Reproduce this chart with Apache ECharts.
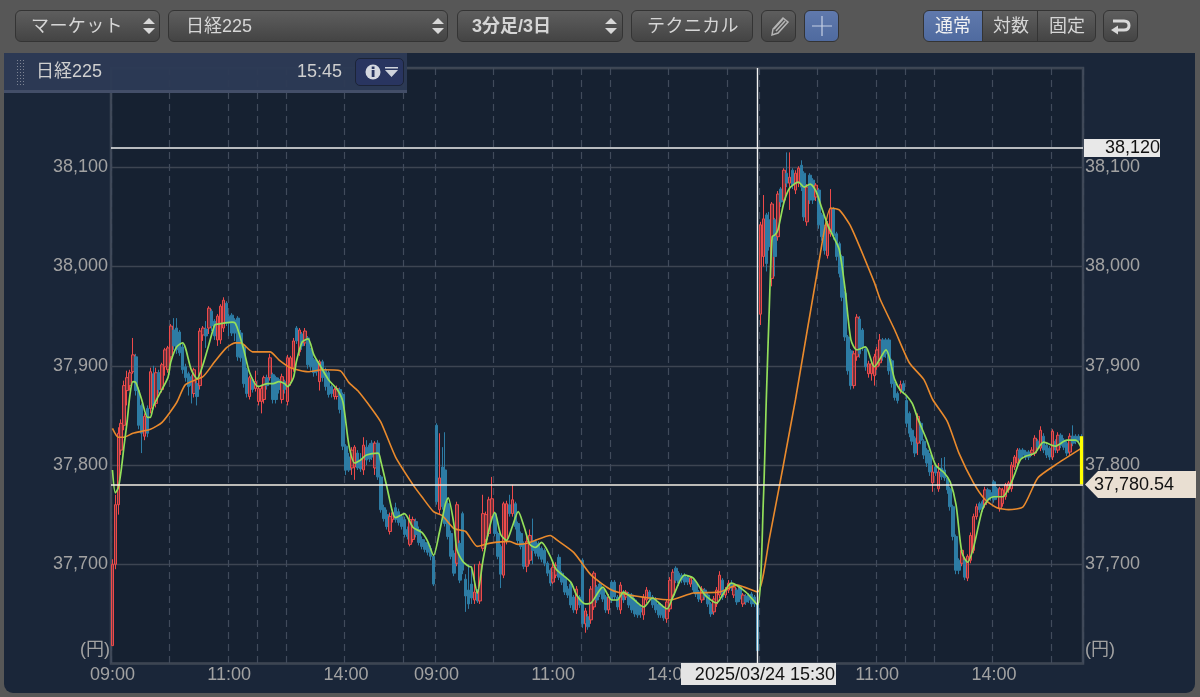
<!DOCTYPE html>
<html><head><meta charset="utf-8">
<script src="https://cdn.jsdelivr.net/npm/echarts@6/dist/echarts.min.js"></script>
<style>
html,body{margin:0;padding:0;width:1200px;height:697px;overflow:hidden;background:#575757;font-family:"Liberation Sans","Noto Sans CJK JP",sans-serif}
#panel{position:absolute;left:4px;top:53px;width:1191px;height:640px;background:#1a2639;border-radius:0 0 9px 9px}
#chart{position:absolute;left:0;top:0;width:1200px;height:697px}
.btn{position:absolute;top:10px;height:30px;border:1px solid #343434;border-radius:6px;background:linear-gradient(#5e5e5e,#444);color:#d6d6d6;font-size:18px;line-height:30px;white-space:nowrap;box-sizing:content-box;z-index:5}
.btn span{position:absolute;top:0}
.btn svg{position:absolute}
.on{background:linear-gradient(#6079ad,#4f6a9f);color:#f2f2f2}
#head{position:absolute;left:4px;top:53px;width:403px;height:37px;background:rgba(45,58,85,.96);border-bottom:3px solid #434e68;z-index:4;color:#cfcfcf;font-size:18px;line-height:36px}
#head .grip{position:absolute;left:12px;top:6px;width:9px;height:26px;background-image:radial-gradient(#7d8494 .6px,transparent .8px);background-size:3px 3px}
#head .ib{position:absolute;left:351px;top:5px;width:47px;height:26px;border:1px solid #1c2437;border-radius:5px;background:#293560}
</style></head><body>
<div id="panel"></div>
<div id="chart"></div>
<div class="btn" style="left:15px;width:143px"><span style="left:15px;letter-spacing:.4px">マーケット</span><svg style="left:126px;top:6px" width="14" height="18"><path d="M7 1l6 6H1zM7 17l6-6H1z" fill="#d8d8d8"/></svg></div>
<div class="btn" style="left:168px;width:278px"><span style="left:17px">日経225</span><svg style="left:262px;top:6px" width="14" height="18"><path d="M7 1l6 6H1zM7 17l6-6H1z" fill="#d8d8d8"/></svg></div>
<div class="btn" style="left:457px;width:164px"><span style="left:14px;font-weight:bold">3分足/3日</span><svg style="left:146px;top:6px" width="14" height="18"><path d="M7 1l6 6H1zM7 17l6-6H1z" fill="#d8d8d8"/></svg></div>
<div class="btn" style="left:631px;width:120px"><span style="left:15px;letter-spacing:.4px">テクニカル</span></div>
<div class="btn" style="left:761px;width:33px"><svg style="left:5px;top:4px" width="24" height="22"><path d="M5 20l1-6 10-11 5 4-10 11zM9 16l9-10M7 14l9-10" fill="none" stroke="#b5b5b5" stroke-width="1.5"/></svg></div>
<div class="btn on" style="left:804px;width:33px"><svg style="left:6px;top:4px" width="22" height="22"><path d="M11 1v20M1 11h20" stroke="#c6d0e4" stroke-width="1.2"/></svg></div>
<div class="btn on" style="left:923px;width:59px;border-radius:6px 0 0 6px"><span style="left:11px">通常</span></div>
<div class="btn" style="left:982px;width:55px;border-radius:0"><span style="left:10px">対数</span></div>
<div class="btn" style="left:1037px;width:57px;border-radius:0 6px 6px 0"><span style="left:11px">固定</span></div>
<div class="btn" style="left:1103px;width:33px"><svg style="left:6px;top:5px" width="22" height="20"><path d="M3 5h11q5 0 5 4.500t-5 4.500h-7" fill="none" stroke="#d8d8d8" stroke-width="3"/><path d="M1 14l7-4.500v9z" fill="#d8d8d8"/></svg></div>
<div id="head"><div class="grip"></div><span style="position:absolute;left:32px">日経225</span><span style="position:absolute;left:293px">15:45</span>
<div class="ib"><svg style="position:absolute;left:6px;top:3px" width="36" height="20"><circle cx="11" cy="10" r="7.500" fill="#d5d8e0"/><rect x="9.700" y="8" width="2.800" height="7" fill="#293560"/><rect x="9.700" y="4.500" width="2.800" height="2.500" fill="#293560"/><path d="M23 5h13v1.500H23zM23 8h13l-6.500 7z" fill="#cfd3dc"/></svg></div></div>
<script>
const dayDates = ["03/21", "03/24", "03/25"];
const yTicks = [37600, 37700, 37800, 37900, 38000, 38100, 38200];
const highLine = 38120;
const lastPrice = 37780.54;
const barTop = 37829;
const cursorDay = "03/24 15:30";
// [open, close, low, high]
const day1Candles = [
[37618,37700,37618,37705],[37700,37760,37695,37770],[37760,37832,37750,37838],[37815,37842,37810,37846],[37840,37880,37835,37885],[37875,37888,37860,37895],[37880,37893,37875,37896],[37894,37911,37892,37928],[37909,37875,37870,37912],[37875,37840,37836,37878],
[37860,37832,37812,37862],[37829,37849,37825,37852],[37857,37832,37828,37860],[37857,37894,37852,37898],[37892,37860,37856,37900],[37862,37893,37858,37898],[37893,37876,37872,37896],[37876,37901,37873,37903],[37899,37916,37890,37918],[37896,37918,37893,37920],
[37909,37940,37905,37942],[37936,37920,37916,37948],[37938,37916,37912,37948],[37934,37913,37910,37936],[37919,37896,37892,37922],[37899,37888,37884,37902],[37892,37879,37870,37894],[37889,37880,37862,37891],[37872,37896,37868,37898],[37882,37869,37860,37885],
[37880,37935,37876,37938],[37931,37938,37925,37940],[37937,37930,37918,37945],[37938,37958,37932,37960],[37955,37940,37935,37957],[37945,37930,37926,37947],[37926,37950,37920,37952],[37926,37960,37922,37962],[37938,37966,37934,37969],[37963,37943,37940,37965],
[37950,37943,37930,37952],[37951,37933,37930,37953],[37946,37933,37925,37948],[37948,37909,37905,37950],[37933,37908,37904,37936],[37919,37882,37878,37921],[37896,37872,37868,37898],[37869,37888,37866,37890],[37886,37876,37873,37888],[37877,37884,37874,37895],
[37864,37877,37860,37880],[37864,37877,37852,37880],[37866,37888,37862,37890],[37888,37880,37876,37891],[37888,37908,37885,37912],[37891,37866,37862,37893],[37888,37866,37862,37890],[37886,37876,37872,37888],[37866,37889,37862,37892],[37884,37876,37872,37886],
[37864,37908,37860,37911],[37883,37908,37880,37910],[37898,37925,37894,37928],[37938,37925,37922,37940],[37914,37936,37910,37938],[37932,37920,37916,37934],[37923,37935,37920,37938],[37928,37901,37897,37930],[37916,37899,37895,37918],[37906,37893,37889,37908],
[37904,37894,37890,37906],[37884,37904,37875,37906],[37904,37888,37884,37906],[37896,37879,37875,37898],[37893,37871,37868,37895],[37879,37872,37868,37881],[37869,37876,37866,37878],[37869,37877,37866,37880],[37876,37856,37852,37878],[37871,37819,37815,37873],
[37819,37795,37790,37821],[37808,37795,37793,37812],[37797,37815,37790,37818],[37798,37818,37785,37820],[37812,37797,37795,37815],[37805,37796,37793,37812],[37795,37820,37790,37828],[37818,37805,37800,37825],[37820,37806,37803,37822],[37822,37808,37805,37825],
[37797,37822,37790,37824],[37822,37788,37785,37825],[37788,37755,37752,37790],[37757,37746,37743,37760],[37750,37738,37735,37755],[37733,37748,37730,37752],[37745,37752,37742,37755],[37757,37745,37742,37762],[37753,37742,37739,37756],[37748,37738,37735,37750],
[37745,37730,37727,37748],[37735,37728,37725,37738],[37720,37745,37718,37750],[37725,37745,37722,37748],[37743,37730,37727,37746],[37735,37722,37719,37738],[37725,37718,37715,37728],[37722,37715,37712,37725],[37720,37712,37709,37722],[37716,37708,37704,37719],[37708,37680,37678,37710]
];
const day2Candles = [
[37840,37763,37760,37842],[37755,37787,37750,37832],[37798,37758,37755,37818],[37795,37741,37738,37833],[37761,37728,37725,37764],[37731,37708,37705,37734],[37711,37691,37688,37714],[37701,37760,37698,37763],[37721,37684,37681,37724],[37751,37694,37690,37753],
[37685,37668,37652,37690],[37674,37660,37655,37700],[37680,37666,37660,37698],[37664,37672,37660,37700],[37672,37663,37661,37675],[37663,37700,37660,37703],[37716,37751,37713,37770],[37725,37750,37722,37753],[37731,37765,37728,37768],[37748,37766,37745,37788],
[37751,37731,37728,37753],[37731,37708,37705,37733],[37718,37690,37676,37720],[37689,37761,37686,37763],[37724,37761,37720,37764],[37760,37751,37748,37770],[37751,37765,37748,37780],[37761,37738,37735,37763],[37741,37724,37721,37743],[37731,37718,37715,37733],
[37721,37698,37695,37723],[37698,37723,37692,37730],[37704,37729,37700,37735],[37723,37714,37700,37746],[37723,37711,37708,37725],[37721,37708,37705,37723],[37716,37705,37702,37718],[37714,37701,37698,37716],[37701,37691,37688,37703],[37694,37681,37678,37696],
[37682,37697,37680,37702],[37689,37699,37686,37702],[37707,37687,37684,37710],[37691,37682,37679,37693],[37686,37672,37669,37688],[37675,37669,37666,37678],[37680,37659,37656,37682],[37667,37654,37651,37669],[37654,37675,37650,37678],[37667,37659,37656,37669],
[37704,37640,37636,37706],[37640,37653,37631,37656],[37647,37637,37634,37650],[37644,37675,37640,37678],[37657,37691,37654,37693],[37677,37664,37661,37679],[37680,37670,37667,37683],[37675,37665,37662,37677],[37667,37654,37651,37669],[37654,37667,37650,37670],
[37682,37664,37661,37684],[37682,37667,37664,37684],[37667,37657,37654,37669],[37654,37679,37650,37682],[37672,37664,37661,37674],[37667,37672,37664,37674],[37670,37659,37656,37672],[37669,37654,37651,37671],[37664,37650,37647,37666],[37659,37649,37646,37661],
[37656,37652,37646,37659],[37649,37667,37644,37670],[37664,37674,37661,37677],[37672,37665,37662,37674],[37667,37659,37656,37669],[37665,37654,37651,37667],[37660,37649,37646,37662],[37659,37649,37646,37661],[37655,37646,37643,37657],[37645,37662,37641,37665],
[37655,37684,37652,37687],[37669,37692,37666,37695],[37696,37684,37681,37698],[37691,37681,37678,37693],[37689,37684,37681,37691],[37689,37682,37679,37691],[37687,37682,37679,37689],[37680,37686,37677,37688],[37684,37674,37671,37686],[37680,37670,37667,37682],
[37672,37665,37662,37674],[37664,37675,37661,37678],[37674,37667,37664,37676],[37669,37660,37657,37671],[37660,37650,37647,37662],[37652,37665,37649,37668],[37660,37674,37657,37677],[37669,37689,37666,37693],[37684,37667,37664,37686],[37669,37674,37666,37677],
[37674,37681,37671,37684],[37681,37676,37673,37684],[37669,37677,37666,37680],[37674,37662,37659,37676],[37677,37665,37662,37679],[37660,37669,37657,37671],[37668,37662,37659,37670],[37669,37664,37661,37671],[37670,37660,37657,37672],[37667,37660,37657,37669],[37660,37613,37611,37662]
];
const day3Candles = [
[37952,38042,37941,38045],[38010,38048,38000,38072],[38052,38003,37995,38054],[38047,38020,38016,38055],[37988,38063,37980,38065],[38047,38010,37990,38049],[38030,38073,38026,38076],[38078,38065,38060,38080],[38067,38097,38063,38099],[38094,38084,38080,38115],
[38084,38090,38057,38115],[38097,38082,38078,38099],[38077,38094,38073,38097],[38084,38099,38080,38101],[38102,38080,38076,38107],[38094,38050,38046,38096],[38045,38080,38041,38083],[38092,38067,38063,38094],[38087,38067,38063,38089],[38070,38082,38066,38084],
[38077,38042,38038,38079],[38052,38030,38026,38054],[38040,38016,38012,38042],[38011,38043,38008,38046],[38033,38058,38030,38078],[38058,38031,38027,38060],[38033,38010,38006,38035],[38023,37993,37989,38025],[38010,37969,37965,38012],[37973,37929,37925,37975],
[37929,37895,37891,37931],[37915,37880,37876,37917],[37880,37912,37877,37915],[37909,37949,37905,37952],[37947,37912,37908,37950],[37936,37919,37915,37938],[37917,37899,37895,37919],[37892,37902,37888,37905],[37892,37902,37885,37905],[37890,37909,37880,37912],
[37899,37916,37896,37919],[37903,37926,37900,37932],[37926,37909,37905,37928],[37926,37912,37908,37928],[37926,37895,37891,37928],[37905,37882,37878,37907],[37882,37868,37865,37884],[37872,37865,37862,37874],[37875,37881,37872,37885],[37882,37875,37872,37885],
[37865,37842,37838,37870],[37852,37832,37828,37854],[37835,37824,37820,37837],[37827,37812,37808,37829],[37822,37849,37810,37852],[37842,37825,37821,37844],[37824,37810,37806,37826],[37815,37802,37798,37817],[37810,37793,37789,37812],[37782,37793,37773,37800],
[37798,37792,37789,37800],[37776,37793,37773,37802],[37797,37788,37785,37807],[37795,37787,37784,37808],[37787,37775,37771,37789],[37776,37758,37754,37778],[37758,37728,37724,37760],[37728,37694,37690,37730],[37704,37694,37690,37706],[37701,37714,37698,37716],
[37704,37687,37684,37706],[37686,37708,37683,37710],[37704,37729,37701,37732],[37714,37748,37711,37751],[37748,37758,37745,37761],[37761,37755,37752,37763],[37763,37756,37753,37765],[37760,37775,37757,37778],[37775,37765,37762,37777],[37772,37768,37764,37775],
[37783,37765,37762,37785],[37776,37768,37765,37778],[37756,37776,37753,37778],[37761,37775,37758,37777],[37768,37780,37765,37782],[37775,37782,37772,37784],[37776,37800,37773,37803],[37798,37808,37795,37810],[37802,37815,37799,37817],[37815,37807,37804,37817],
[37815,37810,37807,37817],[37813,37808,37805,37815],[37813,37808,37805,37815],[37812,37815,37809,37818],[37812,37827,37809,37830],[37824,37818,37815,37826],[37817,37835,37814,37839],[37829,37815,37812,37832],[37820,37810,37807,37822],[37817,37808,37805,37819],
[37808,37834,37805,37836],[37824,37815,37812,37826],[37815,37830,37812,37833],[37830,37820,37817,37832],[37825,37818,37815,37827],[37822,37812,37809,37824],[37813,37829,37810,37832],[37829,37822,37819,37840],[37829,37824,37821,37831],[37829,37825,37822,37831],[37828,37826,37823,37831]
];
// short average, [bar index, value]
const fastAverage = [[0,37795],[1,37772],[2,37777],[3,37795],[4,37820],[5,37843],[6,37871],[7,37884],[8,37883],[10,37866],[12,37848],[13,37848],[14,37859],[16,37871],[19,37888],[20,37904],[22,37919],[24,37923],[25,37918],[27,37896],[29,37887],[31,37901],[33,37921],[35,37941],[36,37942],[41,37944],[42,37943],[43,37936],[45,37916],[47,37893],[50,37879],[53,37882],[55,37882],[57,37884],[59,37882],[60,37879],[62,37888],[63,37904],[65,37924],[67,37927],[69,37911],[71,37901],[74,37886],[77,37876],[79,37863],[81,37820],[83,37802],[85,37805],[87,37810],[91,37812],[92,37803],[94,37778],[96,37752],[97,37747],[100,37751],[103,37737],[106,37732],[108,37723],[110,37709],
[112,37732],[114,37760],[115,37767],[117,37740],[118,37715],[120,37703],[122,37698],[123,37697],[125,37671],[127,37705],[129,37735],[131,37752],[133,37730],[135,37724],[137,37738],[139,37753],[141,37738],[143,37720],[145,37717],[147,37722],[150,37708],[152,37695],[157,37682],[159,37669],[162,37660],[164,37661],[168,37677],[171,37664],[173,37664],[175,37672],[178,37666],[182,37657],[185,37666],[188,37659],[190,37655],[192,37667],[196,37689],[199,37686],[203,37669],[207,37661],[209,37669],[212,37681],[217,37672],[221,37659],
[223,37765],[224,37866],[225,37956],[226,38030],[227,38032],[228,38037],[230,38064],[232,38079],[235,38085],[237,38080],[239,38083],[241,38076],[243,38059],[245,38042],[247,38030],[249,38017],[251,37977],[253,37926],[255,37916],[258,37919],[261,37899],[265,37916],[268,37886],[270,37875],[272,37870],[274,37862],[276,37846],[279,37825],[282,37800],[285,37792],[287,37783],[289,37760],[291,37712],[293,37702],[295,37717],[298,37755],[300,37765],[302,37768],[305,37768],[307,37776],[309,37790],[311,37805],[313,37809],[316,37812],[319,37823],[323,37819],[327,37825],[330,37825],[332,37817]];
// long average, [bar index, value]
const slowAverage = [[0,37837],[2,37828],[4,37828],[7,37832],[13,37836],[17,37843],[22,37863],[25,37881],[31,37889],[35,37904],[39,37918],[42,37923],[44,37923],[48,37914],[54,37914],[57,37906],[61,37898],[67,37894],[72,37896],[78,37895],[81,37883],[84,37875],[89,37856],[92,37843],[97,37808],[103,37780],[106,37768],[110,37753],
[113,37749],[117,37736],[121,37733],[125,37718],[129,37721],[136,37723],[139,37720],[143,37722],[150,37729],[152,37725],[158,37712],[164,37689],[171,37674],[177,37669],[184,37666],[191,37664],[199,37671],[208,37672],[214,37679],[221,37672],
[225,37725],[234,37866],[242,38004],[246,38059],[249,38057],[253,38040],[261,37984],[263,37967],[268,37936],[273,37903],[278,37886],[281,37866],[286,37844],[290,37812],[295,37782],[299,37765],[303,37757],[307,37755],[312,37758],[317,37787],[323,37800],[332,37817]];

const sessionTimes = [];
for (let m = 540; m < 690; m += 3) sessionTimes.push(m);
for (let m = 750; m <= 930; m += 3) sessionTimes.push(m);
const pad = n => String(n).padStart(2, '0');
const categories = [];
dayDates.forEach(d => sessionTimes.forEach(m => categories.push(d + ' ' + pad(Math.floor(m / 60)) + ':' + pad(m % 60))));
const candles = day1Candles.concat(day2Candles, day3Candles);
const hhmm = s => s.slice(6);
const labelTimes = ['09:00', '11:00', '14:00'];
const gridTimes = ['09:00', '10:00', '11:00', '12:30', '13:00', '14:00', '15:00'];
const fmt = v => v.toLocaleString('en-US');
const axisGrey = '#a2a2a2', FONT = '"Liberation Sans","Noto Sans CJK JP",sans-serif';
const last = categories.length - 1;
const cursorIndex = categories.indexOf(cursorDay);

const chart = echarts.init(document.getElementById('chart'));
const yAxisBase = {
  type: 'value', min: yTicks[0], max: yTicks[yTicks.length - 1], interval: 100,
  axisLine: {show: false}, axisTick: {show: false},
  axisLabel: {color: axisGrey, fontSize: 18, fontFamily: FONT, padding: [2, 0, 0, 0],
    formatter: v => (v === yTicks[0] || v === yTicks[yTicks.length - 1]) ? '' : fmt(v)}
};
chart.setOption({
  animation: false,
  backgroundColor: 'transparent',
  textStyle: {fontFamily: FONT},
  grid: {left: 111, top: 68, width: 972, height: 595.5, show: true, backgroundColor: '#162131', borderColor: '#3f4857', borderWidth: 2.5, containLabel: false},
  xAxis: {
    type: 'category', data: categories, boundaryGap: true,
    axisLine: {show: false}, axisTick: {show: false},
    axisLabel: {color: axisGrey, fontSize: 18, fontFamily: FONT, margin: 3,
      interval: (i, v) => labelTimes.includes(hhmm(v)),
      formatter: v => hhmm(v)},
    splitLine: {show: true, interval: (i, v) => gridTimes.includes(hhmm(v)),
      lineStyle: {color: '#414b5b', type: [7, 5], width: 1.2}}
  },
  yAxis: [
    Object.assign({}, yAxisBase, {position: 'left',
      axisLabel: Object.assign({}, yAxisBase.axisLabel, {margin: 3}),
      splitLine: {show: true, lineStyle: {color: '#3d4552', width: 1.3}}}),
    Object.assign({}, yAxisBase, {position: 'right',
      axisLabel: Object.assign({}, yAxisBase.axisLabel, {margin: 2}),
      splitLine: {show: false}})
  ],
  series: [
    {type: 'candlestick', name: '日経225', data: candles, barWidth: 3, silent: true, z: 2,
      itemStyle: {color: 'rgba(238,75,75,0.4)', color0: '#2d7ca4', borderColor: '#ee4a4a', borderColor0: '#2d7ca4', borderWidth: 1},
      markLine: {silent: true, symbol: 'none', animation: false, precision: 2, z: 6,
        lineStyle: {type: 'solid'}, label: {show: false},
        data: [
          [{coord: [cursorIndex, yTicks[yTicks.length - 1]], lineStyle: {color: '#f2f2f2', width: 1.4, type: 'solid'}},
           {coord: [cursorIndex, yTicks[0]]}],
          {yAxis: highLine, lineStyle: {color: '#efefef', width: 1.6, type: 'solid'}},
          {yAxis: lastPrice, lineStyle: {color: '#f4efe4', width: 1.6, type: 'solid'}},
          [{coord: [last, lastPrice], lineStyle: {color: '#ffff00', width: 3.2, type: 'solid'}}, {coord: [last, barTop]}]
        ]}},
    {type: 'line', name: '長期', data: slowAverage, showSymbol: false, smooth: 0.2, silent: true, z: 3, lineStyle: {color: '#ea8a2c', width: 1.6}},
    {type: 'line', name: '短期', data: fastAverage, showSymbol: false, smooth: 0.25, silent: true, z: 4, lineStyle: {color: '#93df5a', width: 1.7}}
  ],
  graphic: [
    {type: 'text', z: 50, style: {x: 110, y: 650, text: '(円)', align: 'right', verticalAlign: 'middle', fill: axisGrey, font: '18px ' + FONT}},
    {type: 'text', z: 50, style: {x: 1085, y: 650, text: '(円)', align: 'left', verticalAlign: 'middle', fill: axisGrey, font: '18px ' + FONT}},
    {type: 'rect', z: 50, shape: {x: 1084, y: 139, width: 76, height: 18}, style: {fill: '#e8e8e8'}},
    {type: 'text', z: 51, style: {x: 1160, y: 148.500, text: fmt(highLine), align: 'right', verticalAlign: 'middle', fill: '#111', font: '18px ' + FONT}},
    {type: 'rect', z: 50, shape: {x: 681, y: 663, width: 155, height: 22}, style: {fill: '#e4e4e4'}},
    {type: 'text', z: 51, style: {x: 835, y: 675, text: '2025/03/24 15:30', align: 'right', verticalAlign: 'middle', fill: '#111', font: '18px ' + FONT}},
    {type: 'polygon', z: 50, shape: {points: [[1085, 484.5], [1098, 471], [1196, 471], [1196, 498], [1098, 498]]}, style: {fill: '#e9dfd2'}},
    {type: 'text', z: 51, style: {x: 1094, y: 485, text: '37,780.54', align: 'left', verticalAlign: 'middle', fill: '#111', font: '18px ' + FONT}}
  ]
});
</script></body></html>
